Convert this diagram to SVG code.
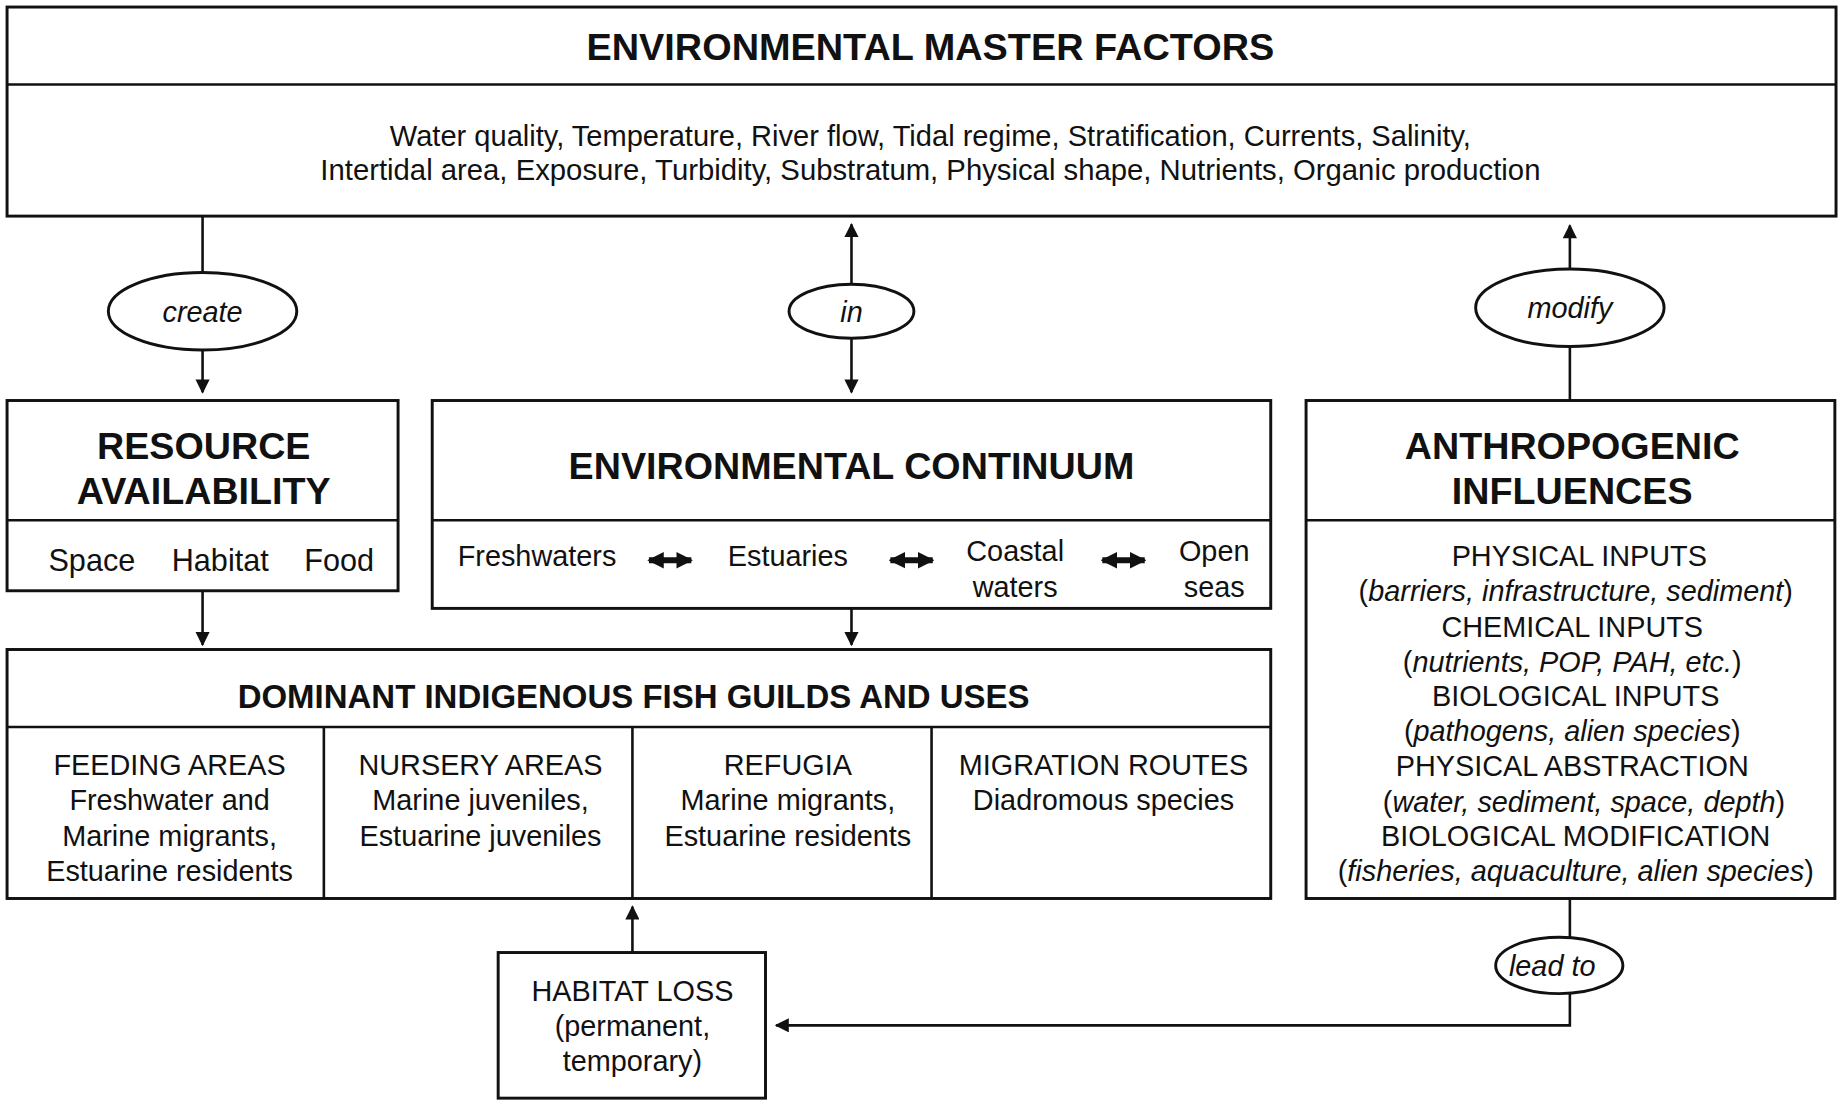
<svg xmlns="http://www.w3.org/2000/svg" width="1842" height="1104" viewBox="0 0 1842 1104">
<style>
.b{fill:#fff;stroke:#111;stroke-width:2.5}
.l{fill:none;stroke:#111;stroke-width:2.2}
text{font-family:"Liberation Sans",Arial,sans-serif;fill:#111;text-anchor:middle}
.t{font-weight:bold;font-size:32px}
.s{font-size:24.5px}
.i{font-style:italic}
</style>
<defs><marker id="a" viewBox="0 0 10 10" refX="9" refY="5" markerWidth="14" markerHeight="12" orient="auto-start-reverse" markerUnits="userSpaceOnUse"><path d="M0,0L10,5L0,10z" fill="#111"/></marker>
<marker id="d" viewBox="0 0 10 10" refX="9" refY="5" markerWidth="14" markerHeight="16" orient="auto-start-reverse" markerUnits="userSpaceOnUse"><path d="M0,0L10,5L0,10z" fill="#111"/></marker></defs>
<rect width="1842" height="1104" fill="#fff"/>
<g transform="scale(1.1777,1.1745)">
<g id="connectors">
<line class="l" x1="172" y1="184" x2="172" y2="240"/>
<line class="l" x1="172" y1="298" x2="172" y2="334" marker-end="url(#a)"/>
<line class="l" x1="723" y1="242" x2="723" y2="191" marker-end="url(#a)"/>
<line class="l" x1="723" y1="288" x2="723" y2="334" marker-end="url(#a)"/>
<line class="l" x1="1333" y1="229" x2="1333" y2="192" marker-end="url(#a)"/>
<line class="l" x1="1333" y1="295" x2="1333" y2="341"/>
<line class="l" x1="172" y1="503" x2="172" y2="549" marker-end="url(#a)"/>
<line class="l" x1="723" y1="518" x2="723" y2="549" marker-end="url(#a)"/>
<line class="l" x1="537" y1="811" x2="537" y2="772" marker-end="url(#a)"/>
<line class="l" x1="1333" y1="765" x2="1333" y2="798"/>
<polyline class="l" points="1333,846 1333,873 659,873" marker-end="url(#a)"/>
<g id="e-create"><ellipse class="b" cx="172" cy="265" rx="80" ry="33"/><text class="s i" x="172" y="274">create</text></g>
<g id="e-in"><ellipse class="b" cx="723" cy="265" rx="53" ry="23"/><text class="s i" x="723" y="274">in</text></g>
<g id="e-modify"><ellipse class="b" cx="1333" cy="262" rx="80" ry="33"/><text class="s i" x="1333" y="271">modify</text></g>
<g id="e-lead"><ellipse class="b" cx="1324" cy="822" rx="54" ry="24"/><text class="s i" x="1318" y="831">lead to</text></g>
</g>
<g id="master">
<rect class="b" x="6" y="6" width="1553" height="178"/><line class="l" x1="6" y1="72" x2="1559" y2="72"/>
<text class="t" x="790" y="51" textLength="584" lengthAdjust="spacingAndGlyphs">ENVIRONMENTAL MASTER FACTORS</text>
<text class="s" x="790" y="124" textLength="918" lengthAdjust="spacingAndGlyphs">Water quality, Temperature, River flow, Tidal regime, Stratification, Currents, Salinity,</text>
<text class="s" x="790" y="153" textLength="1036" lengthAdjust="spacingAndGlyphs">Intertidal area, Exposure, Turbidity, Substratum, Physical shape, Nutrients, Organic production</text>
</g>
<g id="resource">
<rect class="b" x="6" y="341" width="332" height="162"/><line class="l" x1="6" y1="443" x2="338" y2="443"/>
<text class="t" x="173" y="391">RESOURCE</text><text class="t" x="173" y="429">AVAILABILITY</text>
<text x="78" y="486" style="font-size:26px">Space</text><text x="187" y="486" style="font-size:26px">Habitat</text><text x="288" y="486" style="font-size:26px">Food</text>
</g>
<g id="continuum">
<rect class="b" x="367" y="341" width="712" height="177"/><line class="l" x1="367" y1="443" x2="1079" y2="443"/>
<text class="t" x="723" y="408">ENVIRONMENTAL CONTINUUM</text>
<text class="s" x="456" y="482">Freshwaters</text>
<text class="s" x="669" y="482">Estuaries</text>
<text class="s" x="862" y="478">Coastal</text><text class="s" x="862" y="508">waters</text>
<text class="s" x="1031" y="478">Open</text><text class="s" x="1031" y="508">seas</text>
<line x1="551" y1="477" x2="587" y2="477" stroke="#111" stroke-width="5" marker-start="url(#d)" marker-end="url(#d)"/>
<line x1="756" y1="477" x2="792" y2="477" stroke="#111" stroke-width="5" marker-start="url(#d)" marker-end="url(#d)"/>
<line x1="936" y1="477" x2="972" y2="477" stroke="#111" stroke-width="5" marker-start="url(#d)" marker-end="url(#d)"/>
</g>
<g id="anthro">
<rect class="b" x="1109" y="341" width="449" height="424"/><line class="l" x1="1109" y1="443" x2="1558" y2="443"/>
<text class="t" x="1335" y="391">ANTHROPOGENIC</text><text class="t" x="1335" y="429">INFLUENCES</text>
<text class="s" x="1341" y="482">PHYSICAL INPUTS</text>
<text class="s" x="1338" y="512">(<tspan class="i">barriers, infrastructure, sediment</tspan>)</text>
<text class="s" x="1335" y="542">CHEMICAL INPUTS</text>
<text class="s" x="1335" y="572">(<tspan class="i">nutrients, POP, PAH, etc.</tspan>)</text>
<text class="s" x="1338" y="601">BIOLOGICAL INPUTS</text>
<text class="s" x="1335" y="631">(<tspan class="i">pathogens, alien species</tspan>)</text>
<text class="s" x="1335" y="661">PHYSICAL ABSTRACTION</text>
<text class="s" x="1345" y="691">(<tspan class="i">water, sediment, space, depth</tspan>)</text>
<text class="s" x="1338" y="720">BIOLOGICAL MODIFICATION</text>
<text class="s" x="1338" y="750">(<tspan class="i">fisheries, aquaculture, alien species</tspan>)</text>
</g>
<g id="guilds">
<rect class="b" x="6" y="553" width="1073" height="212"/><line class="l" x1="6" y1="619" x2="1079" y2="619"/>
<line class="l" x1="275" y1="619" x2="275" y2="765"/><line class="l" x1="537" y1="619" x2="537" y2="765"/><line class="l" x1="791" y1="619" x2="791" y2="765"/>
<text class="t" x="538" y="603" style="font-size:28px">DOMINANT INDIGENOUS FISH GUILDS AND USES</text>
<text class="s" x="144" y="660">FEEDING AREAS</text><text class="s" x="144" y="690">Freshwater and</text><text class="s" x="144" y="720">Marine migrants,</text><text class="s" x="144" y="750">Estuarine residents</text>
<text class="s" x="408" y="660">NURSERY AREAS</text><text class="s" x="408" y="690">Marine juveniles,</text><text class="s" x="408" y="720">Estuarine juveniles</text>
<text class="s" x="669" y="660">REFUGIA</text><text class="s" x="669" y="690">Marine migrants,</text><text class="s" x="669" y="720">Estuarine residents</text>
<text class="s" x="937" y="660">MIGRATION ROUTES</text><text class="s" x="937" y="690">Diadromous species</text>
</g>
<g id="habitat">
<rect class="b" x="423" y="811" width="227" height="124"/>
<text class="s" x="537" y="852">HABITAT LOSS</text><text class="s" x="537" y="882">(permanent,</text><text class="s" x="537" y="912">temporary)</text>
</g>
</g>
</svg>
